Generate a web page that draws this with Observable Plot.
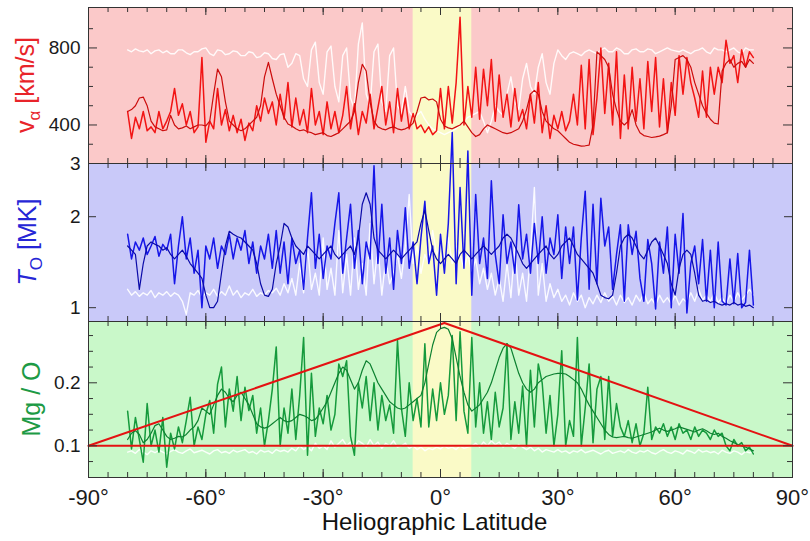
<!DOCTYPE html>
<html>
<head>
<meta charset="utf-8">
<script src="https://cdn.jsdelivr.net/npm/d3@7"></script>
<script src="https://cdn.jsdelivr.net/npm/@observablehq/plot@0.6"></script>
<style>
  body { margin: 0; background: #fff; }
  #chart { width: 810px; position: relative; }
  #chart svg { display: block; overflow: visible; }
</style>
</head>
<body>
<div id="chart"></div>
<script>
// ---------------- data ----------------
// sampling grid of the traces: heliographic latitude, 1° steps from -80° to 80°
const latitude = d3.range(-80, 81);

// alpha-particle speed [km/s]
const speedWhite = [
  790, 780, 795, 785, 780, 790, 770, 785, 790, 775,
  785, 770, 770, 790, 790, 775, 765, 780, 780, 795,
  800, 770, 760, 790, 785, 765, 770, 785, 780, 760,
  760, 780, 775, 750, 755, 775, 770, 745, 740, 765,
  770, 700, 720, 770, 760, 640, 600, 790, 830, 620,
  560, 780, 810, 600, 520, 760, 800, 540, 480, 820,
  930, 560, 500, 780, 820, 520, 470, 760, 800, 500,
  460, 600, 470, 440, 450, 470, 430, 400, 380, 370,
  360, 350, 360, 370, 380, 400, 420, 440, 450, 460,
  470, 420, 360, 420, 500, 470, 450, 560, 650, 520,
  480, 640, 720, 600, 560, 700, 770, 620, 560, 720,
  790, 760, 740, 770, 780, 770, 760, 780, 790, 780,
  770, 790, 800, 780, 780, 800, 790, 770, 770, 790,
  795, 780, 780, 795, 790, 770, 780, 790, 800, 790,
  785, 780, 790, 780, 770, 785, 790, 800, 780, 770,
  800, 790, 790, 780, 790, 800, 780, 770, 800, 790,
  790
];
const speedRed = [
  470, 330, 440, 380, 470, 370, 390, 360, 470, 380,
  420, 470, 590, 450, 510, 400, 470, 360, 390, 750,
  310, 420, 380, 590, 400, 480, 370, 450, 360, 430,
  320, 410, 370, 500, 420, 540, 460, 520, 400, 560,
  430, 620, 390, 540, 400, 480, 360, 590, 400, 470,
  350, 520, 380, 470, 360, 450, 600, 380, 510, 350,
  470, 410, 560, 380, 490, 600, 400, 520, 360, 590,
  420, 540, 380, 460, 380, 400, 360, 390, 350, 370,
  590, 380, 600, 410, 620, 960, 400, 600, 440, 700,
  430, 690, 500, 740, 420, 660, 440, 560, 390, 590,
  420, 480, 380, 560, 410, 620, 360, 500, 330, 450,
  380, 470, 370, 420, 560, 400, 710, 380, 740, 350,
  540, 800, 460, 720, 400, 780, 330, 660, 380, 700,
  420, 640, 380, 730, 470, 750, 390, 640, 360, 620,
  450, 760, 560, 750, 620, 540, 440, 680, 440, 700,
  560, 700, 620, 840, 720, 760, 620, 790, 700, 780,
  750
];
const speedDarkRed = [
  470, 480, 500, 540, 545, 500, 420, 390, 380, 370,
  375, 450, 400, 380, 385, 395, 380, 390, 400, 400,
  395, 420, 560, 690, 650, 520, 420, 400, 380, 370,
  380, 400, 420, 440, 500, 650, 725, 640, 560, 500,
  440, 405, 395, 380, 370, 375, 365, 360, 350, 355,
  360, 345, 340, 350, 360, 380, 400, 420, 470, 620,
  715, 680, 520, 420, 390, 380, 375, 385, 390, 380,
  375, 380, 390, 410, 470, 540, 545, 530, 535, 520,
  430, 395, 385, 380, 390, 400, 420, 390, 360, 340,
  350, 380, 400, 390, 380, 370, 360, 355, 360, 370,
  380, 420, 480, 560, 580, 560, 470, 420, 400, 380,
  370, 350, 330, 310, 300, 295, 290, 292, 295, 400,
  780, 760, 740, 700, 560, 480, 420, 400, 420, 480,
  400, 360, 345, 340, 335, 338, 342, 350, 360, 500,
  740, 750, 760, 740, 700, 620, 560, 500, 460, 430,
  410, 405, 680, 720, 740, 700, 720, 730, 700, 740,
  720
];

// oxygen freeze-in temperature [MK]
const tempWhite = [
  1.15, 1.1, 1.13, 1.09, 1.12, 1.1, 1.14, 1.08, 1.12, 1.1,
  1.13, 1.09, 1.12, 1.1, 1.05, 0.95, 1.12, 1.1, 1.14, 1.08,
  1.12, 1.1, 1.15, 1.09, 1.13, 1.1, 1.18, 1.1, 1.14, 1.08,
  1.12, 1.1, 1.15, 1.09, 1.12, 1.1, 1.14, 1.12, 1.16, 1.1,
  1.2, 1.12, 1.25, 1.1, 1.4, 1.12, 1.6, 1.15, 1.3, 1.1,
  1.7, 1.15, 1.35, 1.1, 1.8, 1.12, 1.5, 1.1, 1.7, 1.15,
  1.4, 1.1, 1.9, 1.2, 1.6, 1.1, 1.45, 1.2, 1.3, 1.5,
  1.25, 1.6, 2.37, 1.4, 1.6, 1.3, 1.5, 1.4, 1.8, 1.5,
  1.6, 1.45, 1.7, 1.4, 1.6, 1.5, 1.35, 1.5, 1.3, 1.45,
  1.2, 1.35, 1.15, 1.3, 1.1, 1.25, 1.05, 1.4, 1.08, 1.6,
  1.1, 1.3, 1.05, 1.5, 2.5, 1.1, 1.4, 1.05, 1.2, 1.08,
  1.15, 1.05, 1.1, 1.02, 1.12, 1.05, 1.1, 1.0, 1.08, 1.03,
  1.1, 1.04, 1.12, 1.05, 1.09, 1.02, 1.1, 1.04, 1.08, 1.02,
  1.1, 1.05, 1.12, 1.03, 1.07, 1.02, 1.1, 1.04, 1.08, 1.03,
  1.1, 1.02, 1.07, 1.04, 1.12, 1.05, 1.15, 1.06, 1.1, 1.05,
  1.12, 1.04, 1.08, 1.03, 1.1, 1.05, 1.12, 1.06, 1.1, 1.15,
  1.1
];
const tempBlue = [
  1.75, 1.45, 1.65, 1.55, 1.7, 1.5, 1.6, 1.72, 1.48, 1.62,
  1.55, 1.75, 1.2, 1.6, 2.0, 1.45, 1.7, 1.3, 1.55, 1.0,
  1.6, 1.45, 1.7, 1.35, 1.6, 1.5, 1.75, 1.45, 1.7, 1.55,
  1.8, 1.4, 1.65, 1.3, 1.6, 1.45, 1.75, 1.35, 1.8, 1.3,
  1.65, 1.2, 1.7, 1.4, 1.55, 1.15, 1.7, 2.4, 1.35, 1.75,
  1.25, 1.6, 1.45, 1.9, 2.4, 1.3, 1.7, 2.2, 1.35, 1.8,
  1.2, 1.65, 1.45, 2.95, 1.4, 2.2, 1.3, 1.7, 1.15, 1.8,
  1.4, 2.14, 1.35, 1.65, 1.2, 1.7, 2.25, 1.4, 1.6, 1.1,
  1.75, 1.3, 1.9, 3.8, 1.2, 2.5, 1.35, 3.3, 1.1, 2.37,
  1.4, 1.7, 1.25, 2.63, 1.5, 1.2, 2.03, 1.4, 1.65, 1.3,
  2.19, 1.45, 1.75, 1.3, 1.9, 1.4, 2.0, 1.3, 1.7, 1.5,
  2.03, 1.25, 1.85, 1.4, 1.85, 1.06, 1.7, 2.43, 1.15, 2.2,
  1.2, 2.3, 1.6, 1.85, 1.15, 1.5, 1.88, 1.05, 1.88, 1.5,
  1.79, 1.25, 1.05, 1.68, 1.4, 0.99, 1.65, 1.3, 1.85, 1.0,
  1.75, 1.3, 2.05, 0.96, 1.4, 1.6, 1.2, 1.68, 1.05, 1.55,
  1.0, 1.65, 1.05, 1.02, 1.45, 1.03, 1.51, 1.0, 1.04, 1.55,
  1.02
];
const tempDarkBlue = [
  1.6, 1.55, 1.5, 1.15, 1.4, 1.6, 1.65, 1.62, 1.6, 1.55,
  1.58, 1.5, 1.45, 1.5, 1.55, 1.48, 1.4, 1.35, 1.3, 1.25,
  1.1, 1.0, 1.0, 1.05, 1.3, 1.6, 1.79, 1.75, 1.72, 1.7,
  1.65, 1.6, 1.55, 1.4, 1.2, 1.1, 1.09, 1.15, 1.4, 1.6,
  1.9, 1.85, 1.7, 1.6, 1.55, 1.5, 1.6, 1.55, 1.5, 1.45,
  1.5, 1.55, 1.6, 1.5, 1.45, 1.5, 1.55, 1.6, 1.5, 1.7,
  2.2, 2.4, 2.2, 1.7, 1.55, 1.5, 1.45, 1.5, 1.55, 1.5,
  1.45, 1.5, 1.55, 1.6, 1.65, 1.9, 2.1, 1.8, 1.55, 1.45,
  1.4, 1.45, 1.5, 1.45, 1.4, 1.5, 1.55, 1.5, 1.45, 1.5,
  1.55, 1.6, 1.55, 1.5, 1.55, 1.6, 1.7, 1.75, 1.7, 1.6,
  1.5, 1.4, 1.35, 1.4, 1.45, 1.5, 1.55, 1.6, 1.5, 1.45,
  1.5, 1.6, 1.65, 1.7, 1.6, 1.5, 1.45, 1.4, 1.35, 1.3,
  1.2, 1.1, 1.08, 1.07, 1.1, 1.3, 1.6, 1.7, 1.75, 1.7,
  1.6, 1.5, 1.45, 1.55, 1.65, 1.7, 1.6, 1.5, 1.4, 1.2,
  1.1, 1.35, 1.5, 1.55, 1.5, 1.3, 1.1, 1.05, 1.06, 1.04,
  1.05, 1.03, 1.02, 1.03, 1.02, 1.04, 1.02, 1.03, 1.01, 1.02,
  1.0
];

// Mg / O abundance ratio
const mgoWhite = [
  0.09, 0.092, 0.088, 0.094, 0.09, 0.086, 0.092, 0.089, 0.093, 0.09,
  0.087, 0.091, 0.094, 0.09, 0.088, 0.092, 0.095, 0.089, 0.091, 0.093,
  0.09, 0.087, 0.092, 0.094, 0.089, 0.091, 0.088, 0.093, 0.09, 0.092,
  0.094, 0.089, 0.091, 0.087, 0.093, 0.09, 0.092, 0.088, 0.094, 0.091,
  0.093, 0.09, 0.096, 0.092, 0.1, 0.094, 0.098, 0.092, 0.104, 0.096,
  0.1, 0.094, 0.108, 0.098, 0.104, 0.11, 0.1, 0.106, 0.096, 0.108,
  0.104, 0.098, 0.11, 0.1, 0.106, 0.096, 0.104, 0.1, 0.108, 0.098,
  0.1, 0.104, 0.096, 0.1, 0.094, 0.098, 0.092, 0.096, 0.094, 0.098,
  0.095, 0.1, 0.096, 0.098, 0.094, 0.1, 0.096, 0.098, 0.1, 0.104,
  0.098, 0.106, 0.1, 0.108, 0.102, 0.106, 0.098, 0.104, 0.1, 0.096,
  0.102, 0.098, 0.094, 0.098, 0.092, 0.096, 0.09, 0.094, 0.092, 0.09,
  0.094, 0.09, 0.092, 0.088, 0.092, 0.09, 0.094, 0.089, 0.091, 0.093,
  0.09, 0.087, 0.091, 0.093, 0.088, 0.09, 0.092, 0.089, 0.094, 0.09,
  0.088, 0.092, 0.09, 0.093, 0.089, 0.087, 0.091, 0.094, 0.09, 0.088,
  0.092, 0.09, 0.087, 0.093, 0.091, 0.088, 0.094, 0.09, 0.092, 0.089,
  0.091, 0.087, 0.093, 0.09, 0.088, 0.092, 0.09, 0.086, 0.091, 0.089,
  0.09
];
const mgoGreen = [
  0.155, 0.095, 0.145, 0.11, 0.074, 0.167, 0.1, 0.125, 0.09, 0.145,
  0.066, 0.12, 0.095, 0.13, 0.105, 0.14, 0.177, 0.1, 0.13, 0.11,
  0.15, 0.172, 0.12, 0.198, 0.225, 0.13, 0.19, 0.155, 0.21, 0.14,
  0.193, 0.156, 0.18, 0.12, 0.16, 0.1, 0.14, 0.19, 0.257, 0.1,
  0.16, 0.12, 0.19, 0.11, 0.18, 0.272, 0.085, 0.215, 0.115, 0.16,
  0.135, 0.18, 0.125, 0.15, 0.23, 0.21, 0.235, 0.115, 0.085, 0.2,
  0.16, 0.21, 0.14, 0.2, 0.125, 0.18, 0.14, 0.165, 0.12, 0.267,
  0.16, 0.115, 0.2, 0.14, 0.175, 0.13, 0.262, 0.13, 0.19, 0.14,
  0.2, 0.15, 0.18, 0.275, 0.14, 0.281, 0.155, 0.12, 0.272, 0.13,
  0.2, 0.12, 0.17, 0.11, 0.185, 0.13, 0.16, 0.262, 0.11, 0.17,
  0.12, 0.195, 0.1, 0.22, 0.13, 0.23, 0.2, 0.12, 0.18, 0.1,
  0.15, 0.251, 0.1, 0.14, 0.115, 0.272, 0.1, 0.16, 0.23, 0.105,
  0.19, 0.21, 0.11, 0.21, 0.115, 0.167, 0.13, 0.115, 0.14, 0.105,
  0.135, 0.1, 0.12, 0.193, 0.11, 0.13, 0.12, 0.135, 0.115, 0.13,
  0.11, 0.135, 0.12, 0.125, 0.11, 0.13, 0.115, 0.125, 0.12, 0.11,
  0.125, 0.115, 0.12, 0.1, 0.092, 0.11, 0.1, 0.105, 0.092, 0.098,
  0.087
];
const mgoDarkGreen = [
  0.11, 0.12, 0.124, 0.118, 0.105, 0.11, 0.12, 0.132, 0.135, 0.125,
  0.115, 0.11, 0.112, 0.115, 0.114, 0.118, 0.125, 0.13, 0.14, 0.16,
  0.155, 0.15, 0.165, 0.18, 0.19, 0.185, 0.175, 0.17, 0.18, 0.185,
  0.175, 0.165, 0.15, 0.135, 0.13, 0.128, 0.13, 0.135, 0.14, 0.145,
  0.14, 0.138, 0.14, 0.145, 0.15, 0.148, 0.145, 0.14, 0.142, 0.15,
  0.16, 0.17, 0.185, 0.2, 0.215, 0.225, 0.22, 0.205, 0.19, 0.2,
  0.22, 0.235, 0.23, 0.215, 0.2, 0.19, 0.18, 0.17, 0.165, 0.16,
  0.158, 0.16, 0.165, 0.17, 0.175, 0.18, 0.2, 0.23, 0.26, 0.28,
  0.286, 0.288, 0.285, 0.27, 0.24, 0.21, 0.185, 0.165, 0.155, 0.16,
  0.165, 0.175, 0.185, 0.2, 0.22, 0.24, 0.255, 0.262, 0.255, 0.235,
  0.215, 0.2, 0.19, 0.185, 0.19, 0.2, 0.205, 0.21, 0.212, 0.214,
  0.215, 0.215, 0.214, 0.21, 0.205, 0.2, 0.19, 0.177, 0.165, 0.155,
  0.145, 0.135, 0.125, 0.118, 0.114, 0.113, 0.114, 0.115, 0.113, 0.112,
  0.114, 0.116, 0.118, 0.12, 0.122, 0.125, 0.128, 0.125, 0.123, 0.125,
  0.127, 0.13, 0.128, 0.126, 0.124, 0.122, 0.125, 0.127, 0.124, 0.12,
  0.118, 0.12, 0.115, 0.112, 0.108, 0.105, 0.102, 0.1, 0.098, 0.095,
  0.092
];

// red reference triangle in the Mg/O panel
const triangleLat = [-90, 1, 90];
const triangleMgo = [0.1, 0.295, 0.1];
const baselineMgo = [0.1];

// shaded equatorial band (degrees)
const bandFrom = [-7];
const bandTo = [8];

// ticks and labels
const latLabels = [-90, -60, -30, 0, 30, 60, 90];
const latMinor = d3.range(-85, 90, 5);
const speedLabels = [400, 800];
const speedMinor = [300, 500, 600, 700, 900];
const tempLabels = [1, 2, 3];
const tempTicks = [1, 2];
const mgoLabels = [0.1, 0.2];
const mgoMinor = [0.075, 0.125, 0.15, 0.175, 0.225, 0.25, 0.275];

// ---------------- layout & style ----------------
const FONT = "'Liberation Sans', Arial, Helvetica, sans-serif";
const W = 810, ML = 88, MR = 18, FW = W - ML - MR;
const PINK = "#fbc9c9", BLUE = "#c9c9f9", GREEN = "#c9f8c9", YELLOW = "#fafac7";
const TICK = "#333";

const rows = latitude.map((lat, i) => ({
  lat,
  vW: speedWhite[i], vR: speedRed[i], vD: speedDarkRed[i],
  tW: tempWhite[i], tB: tempBlue[i], tD: tempDarkBlue[i],
  mW: mgoWhite[i], mG: mgoGreen[i], mD: mgoDarkGreen[i]
}));
const band = bandFrom.map((f, i) => ({from: f, to: bandTo[i]}));
const triangle = triangleLat.map((lat, i) => ({lat, m: triangleMgo[i]}));

function xTicks(fh) {
  return [
    Plot.ruleX(latMinor, {insetBottom: fh - 5, stroke: TICK}),
    Plot.ruleX(latMinor, {insetTop: fh - 5, stroke: TICK}),
    Plot.ruleX(latLabels, {insetBottom: fh - 8, stroke: TICK}),
    Plot.ruleX(latLabels, {insetTop: fh - 8, stroke: TICK})
  ];
}
function yTicks(values, len) {
  return [
    Plot.ruleY(values, {insetRight: FW - len, stroke: TICK}),
    Plot.ruleY(values, {insetLeft: FW - len, stroke: TICK})
  ];
}
function background(fill) {
  return [
    Plot.frame({fill}),
    Plot.rect(band, {x1: "from", x2: "to", fill: YELLOW})
  ];
}
const common = {
  width: W, marginLeft: ML, marginRight: MR,
  style: {fontFamily: FONT, overflow: "visible", background: "transparent", color: "#1a1a1a"}
};

// ---------------- panel 1: speed ----------------
const p1 = Plot.plot({
  ...common, height: 163, marginTop: 7, marginBottom: 0,
  x: {domain: [-90, 90], axis: null},
  y: {domain: [200, 1010]},
  marks: [
    ...background(PINK),
    Plot.line(rows, {x: "lat", y: "vW", stroke: "#ffffff", strokeWidth: 1.4, strokeOpacity: 0.9}),
    Plot.line(rows, {x: "lat", y: "vR", stroke: "#f21414", strokeWidth: 1.5}),
    Plot.line(rows, {x: "lat", y: "vD", stroke: "#cc0c0c", strokeWidth: 1.2}),
    ...xTicks(156),
    ...yTicks(speedMinor, 5),
    ...yTicks(speedLabels, 9),
    Plot.axisY({ticks: speedLabels, tickSize: 0, tickPadding: 8, fontSize: 19, label: null}),
    Plot.frame({stroke: TICK})
  ]
});

// ---------------- panel 2: temperature (log) ----------------
const p2 = Plot.plot({
  ...common, height: 158, marginTop: 0, marginBottom: 0,
  x: {domain: [-90, 90], axis: null},
  y: {type: "log", domain: [0.9, 3]},
  marks: [
    ...background(BLUE),
    Plot.line(rows, {x: "lat", y: "tW", stroke: "#ffffff", strokeWidth: 1.4, strokeOpacity: 0.9}),
    Plot.line(rows, {x: "lat", y: "tB", stroke: "#1616e8", strokeWidth: 1.5}),
    Plot.line(rows, {x: "lat", y: "tD", stroke: "#0a0aa8", strokeWidth: 1.2}),
    ...xTicks(158),
    ...yTicks(tempTicks, 8),
    Plot.axisY({ticks: tempLabels, tickFormat: d => String(d), tickSize: 0, tickPadding: 8, fontSize: 19, label: null}),
    Plot.frame({stroke: TICK})
  ]
});

// ---------------- panel 3: Mg/O ----------------
const p3 = Plot.plot({
  ...common, height: 220, marginTop: 0, marginBottom: 64,
  x: {domain: [-90, 90]},
  y: {domain: [0.0497, 0.2973]},
  marks: [
    ...background(GREEN),
    Plot.line(rows, {x: "lat", y: "mW", stroke: "#ffffff", strokeWidth: 1.4, strokeOpacity: 0.9}),
    Plot.line(rows, {x: "lat", y: "mG", stroke: "#159a3c", strokeWidth: 1.5}),
    Plot.line(rows, {x: "lat", y: "mD", stroke: "#0c8030", strokeWidth: 1.2}),
    Plot.ruleY(baselineMgo, {stroke: "#e41212", strokeWidth: 2}),
    Plot.line(triangle, {x: "lat", y: "m", stroke: "#e41212", strokeWidth: 2}),
    ...xTicks(156),
    ...yTicks(mgoMinor, 5),
    ...yTicks(mgoLabels, 9),
    Plot.axisY({ticks: mgoLabels, tickFormat: d => String(d), tickSize: 0, tickPadding: 8, fontSize: 19, label: null}),
    Plot.axisX({ticks: latLabels, tickFormat: d => `${d}°`, tickSize: 0, tickPadding: 12, fontSize: 22, label: null}),
    Plot.text(["Heliographic Latitude"], {text: d => d, frameAnchor: "bottom", lineAnchor: "middle", dy: 45, dx: -6, fontSize: 24, fill: "#111"}),
    Plot.frame({stroke: TICK})
  ]
});

// rotated axis titles with subscripts (y is relative to each panel's own svg)
function yTitle(svg, parts, color, x, y) {
  const t = d3.select(svg).append("text")
    .attr("transform", `translate(${x},${y}) rotate(-90)`)
    .attr("text-anchor", "middle")
    .attr("fill", color)
    .attr("font-family", FONT)
    .attr("font-size", 25);
  for (const p of parts) {
    const s = t.append("tspan").text(p.text);
    if (p.sub) s.attr("font-size", 17).attr("dy", 6);
    if (p.back) s.attr("dy", -6);
    if (p.italic) s.attr("font-style", "italic");
  }
}
yTitle(p1, [{text: "v"}, {text: "α", sub: true}, {text: " [km/s]", back: true}], "#e8242a", 34, 85);
yTitle(p2, [{text: "T", italic: true}, {text: "O", sub: true}, {text: " [MK]", back: true}], "#2626d6", 36, 79);
yTitle(p3, [{text: "Mg / O"}], "#1d9a45", 40, 78);

const chart = document.getElementById("chart");
chart.append(p1, p2, p3);
</script>
</body>
</html>
